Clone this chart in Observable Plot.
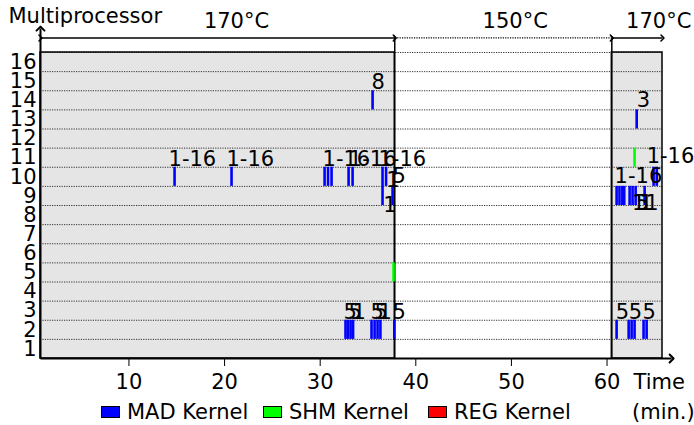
<!DOCTYPE html>
<html><head><meta charset="utf-8">
<script src="https://cdn.jsdelivr.net/npm/d3@7"></script>
<script src="https://cdn.jsdelivr.net/npm/@observablehq/plot@0.6"></script>
<style>
body{margin:0;background:#fff;font-family:"DejaVu Sans",sans-serif;}
#wrap{width:694px;}
#legend{position:relative;height:25px;font-size:21px;color:#000;width:694px;}
.item{position:absolute;top:0;line-height:25px;white-space:nowrap}
.sw{position:absolute;top:6px;width:17px;height:10px;border:1.5px solid #000;}
</style></head><body><div id="wrap"></div><div id="legend"></div>
<script>
// ---- data ----
const rowCount = 16;
const timeTicks = [10, 20, 30, 40, 50, 60];
const timeRange = [0.75, 65.8];
// temperature phases
const phaseStarts = [0.75, 37.8, 60.5];
const phaseEnds = [37.8, 60.5, 65.8];
const phaseTemps = ["170°C", "150°C", "170°C"];
const phaseLabelAt = [21.25, 50.4, 65.4];
// error events: [time (min), multiprocessor row, rows spanned]
const madBars = [
  [14.77, 10, 1], [20.73, 10, 1],
  [30.46, 10, 1], [30.82, 10, 1], [31.19, 10, 1],
  [32.97, 10, 1], [33.39, 10, 1],
  [36.52, 9, 2], [36.89, 10, 1], [37.57, 9, 1],
  [35.48, 14, 1],
  [32.65, 2, 1], [32.9, 2, 1], [33.18, 2, 1], [33.44, 2, 1],
  [35.37, 2, 1], [35.69, 2, 1], [36.0, 2, 1], [36.3, 2, 1], [37.75, 2, 1],
  [61.0, 2, 1], [62.26, 2, 1], [62.57, 2, 1], [62.88, 2, 1], [63.82, 2, 1], [64.14, 2, 1],
  [61.0, 9, 1], [61.3, 9, 1], [61.6, 9, 1], [61.8, 9, 1],
  [62.36, 9, 1], [62.67, 9, 1], [62.99, 9, 1], [63.93, 9, 1],
  [64.87, 10, 1], [65.2, 10, 1],
  [63.1, 13, 1]
];
const shmBars = [[37.67, 5, 1], [62.88, 11, 1]];
const regBars = [];
// event labels: [time of text start, baseline (row units), text]
const eventLabels = [
  [14.14, 10.05, "1-16"], [20.2, 10.05, "1-16"],
  [30.25, 10.05, "1-16"], [33.0, 10.05, "1-16"], [36.1, 10.05, "1-16"],
  [35.37, 14.1, "8"],
  [37.57, 9.2, "5"], [36.9, 8.95, "1"], [36.6, 7.65, "1"],
  [32.44, 2.05, "5"], [32.96, 2.05, "5"], [33.39, 2.05, "1"],
  [35.27, 2.05, "5"], [35.69, 2.05, "5"], [36.1, 2.05, "1"], [37.57, 2.05, "5"],
  [60.9, 2.05, "5"], [62.26, 2.05, "5"], [63.72, 2.05, "5"],
  [63.1, 13.15, "3"],
  [60.79, 9.2, "1-16"], [64.14, 10.2, "1-16"],
  [62.6, 7.75, "1"], [63.0, 7.75, "5"], [63.4, 7.75, "1"], [64.0, 7.75, "1"]
];
const kernels = ["MAD Kernel", "SHM Kernel", "REG Kernel"];
const kernelColors = ["#0000ff", "#00ff00", "#ff0000"];

// ---- build ----
const phases = phaseStarts.map((s, i) => ({start: s, end: phaseEnds[i], temp: phaseTemps[i], at: phaseLabelAt[i]}));
const hot = phases.filter(p => p.temp === "170°C");
const cool = phases.filter(p => p.temp !== "170°C");
const topY = 16.76;
const rows = d3.range(1, rowCount + 1);
const barMark = (data, color) => Plot.ruleX(data, {
  x: d => d[0], y1: d => d[1] - 1, y2: d => d[1] - 1 + d[2], stroke: color, strokeWidth: 2.6
});

const chart = Plot.plot({
  width: 694, height: 400,
  marginLeft: 40, marginRight: 32, marginTop: 52, marginBottom: 42,
  x: {domain: timeRange},
  y: {domain: [0, rowCount]},
  style: {fontFamily: "DejaVu Sans", fontSize: "21px", background: "white", overflow: "visible", color: "black"},
  marks: [
    Plot.rect(hot, {x1: "start", x2: "end", y1: 0, y2: rowCount, fill: "#e5e5e5"}),
    Plot.ruleY(rows, {stroke: "#333", strokeWidth: 1, strokeDasharray: "1.2,1.2"}),
    Plot.rect(hot, {x1: "start", x2: "end", y1: 0, y2: rowCount, fill: "none", stroke: "black", strokeWidth: 1.5}),
    Plot.ruleX(phases.slice(1), {x: "start", y1: 0, y2: topY, stroke: "black", strokeWidth: 1.5}),
    Plot.link(hot, {x1: "start", x2: "end", y1: topY, y2: topY, stroke: "black", strokeWidth: 1.5, markerStart: "arrow", markerEnd: "arrow"}),
    Plot.link(cool, {x1: "start", x2: "end", y1: topY, y2: topY, stroke: "black", strokeWidth: 1.2, strokeDasharray: "1.2,1.2", markerStart: "arrow", markerEnd: "arrow"}),
    Plot.text(phases, {x: "at", y: topY, text: "temp", lineAnchor: "bottom", dy: -10, fontSize: 21}),
    barMark(madBars, kernelColors[0]),
    barMark(shmBars, kernelColors[1]),
    barMark(regBars, kernelColors[2]),
    Plot.text(eventLabels, {x: d => d[0], y: d => d[1], text: d => d[2], textAnchor: "start", lineAnchor: "bottom", dy: 0, fontSize: 21}),
    Plot.link([0], {x1: timeRange[0], x2: 66.75, y1: 0, y2: 0, stroke: "black", strokeWidth: 2, markerEnd: "arrow"}),
    Plot.link([0], {x1: timeRange[0], x2: timeRange[0], y1: 0, y2: 17.25, stroke: "black", strokeWidth: 2, markerEnd: "arrow"}),
    Plot.axisX({ticks: timeTicks, tickSize: 8, tickPadding: 8, label: null, fontSize: 21}),
    Plot.axisY({ticks: rows.map(r => r - 0.5), tickFormat: d => d + 0.5, tickSize: 0, tickPadding: 4, label: null, fontSize: 21}),
    Plot.text(["Multiprocessor"], {frameAnchor: "top-left", dx: -32, dy: -44, textAnchor: "start", fontSize: 21}),
    Plot.text(["Time"], {frameAnchor: "bottom-right", dx: -29, dy: 30, textAnchor: "start", fontSize: 21})
  ]
});
document.getElementById("wrap").appendChild(chart);

const legend = document.getElementById("legend");
const legendX = [101, 263, 428];
kernels.forEach((k, i) => {
  const sw = document.createElement("span");
  sw.className = "sw"; sw.style.left = legendX[i] + "px"; sw.style.background = kernelColors[i];
  legend.appendChild(sw);
  const t = document.createElement("span");
  t.className = "item"; t.style.left = (legendX[i] + 26) + "px"; t.textContent = k;
  legend.appendChild(t);
});
const unit = document.createElement("span");
unit.className = "item"; unit.style.left = "632px"; unit.textContent = "(min.)";
legend.appendChild(unit);
</script>
</body></html>
